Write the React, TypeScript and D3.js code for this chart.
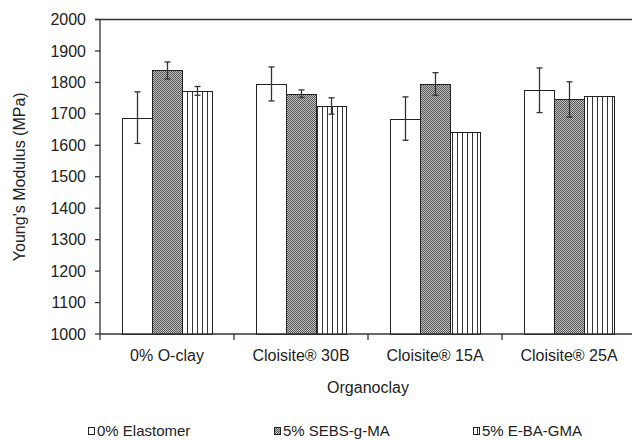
import React from "react";
import * as d3 from "d3";

const categories = ["0% O-clay", "Cloisite® 30B", "Cloisite® 15A", "Cloisite® 25A"];
const seriesNames = ["0% Elastomer", "5% SEBS-g-MA", "5% E-BA-GMA"];
const elastomer0 = [1688, 1795, 1685, 1775];
const elastomer0Err = [82, 54, 69, 71];
const sebs5 = [1838, 1764, 1795, 1746];
const sebs5Err = [27, 12, 36, 56];
const eba5 = [1773, 1725, 1642, 1758];
const eba5Err = [14, 26, 0, 0];
const yTicks = [1000, 1100, 1200, 1300, 1400, 1500, 1600, 1700, 1800, 1900, 2000];

const W = 632;
const H = 440;
const left = 100;
const right = 636;
const top = 19.5;
const bottom = 334;

export default function App() {
  const x = d3.scaleBand<string>().domain(categories).range([left, right]).paddingInner(0.3284).paddingOuter(0.1642);
  const xs = d3.scaleBand<number>().domain([0, 1, 2]).range([0, x.bandwidth()]);
  const y = d3.scaleLinear().domain([1000, 2000]).range([bottom, top]);
  const values = [elastomer0, sebs5, eba5];
  const errs = [elastomer0Err, sebs5Err, eba5Err];
  const fills = ["#ffffff", "url(#checker)", "url(#vstripe)"];
  const font = "'Liberation Sans', Arial, sans-serif";
  const txt = "#222";
  const legendX = [88, 274, 473];

  return (
    <svg width={W} height={H} style={{ position: "absolute", left: 0, top: 0 }} fontFamily={font}>
      <defs>
        <pattern id="checker" patternUnits="userSpaceOnUse" width={2} height={2}>
          <rect x={0} y={0} width={2} height={2} fill="#bdbdbd" />
          <rect x={0} y={0} width={1} height={1} fill="#5a5a5a" />
          <rect x={1} y={1} width={1} height={1} fill="#5a5a5a" />
        </pattern>
        <pattern id="vstripe" patternUnits="userSpaceOnUse" width={5} height={5}>
          <rect x={0} y={0} width={5} height={5} fill="#ffffff" />
          <rect x={2} y={0} width={1} height={5} fill="#333" />
        </pattern>
      </defs>
      <rect x={0} y={0} width={W} height={H} fill="#fff" />
      {/* bars */}
      {categories.map((c, ci) => (
        <g key={c}>
          {values.map((vals, si) => {
            const bx = (x(c) as number) + (xs(si) as number);
            const by = y(vals[ci]);
            return (
              <rect key={si} x={bx + 0.5} y={Math.round(by) + 0.5} width={xs.bandwidth()} height={bottom - Math.round(by)}
                fill={fills[si]} stroke="#222" strokeWidth={1} />
            );
          })}
        </g>
      ))}
      {/* error bars */}
      {categories.map((c, ci) => (
        <g key={"e" + c}>
          {values.map((vals, si) => {
            const e = errs[si][ci];
            if (!e) return null;
            const cx = Math.round((x(c) as number) + (xs(si) as number) + xs.bandwidth() / 2) + 0.5;
            const y1 = y(vals[ci] + e);
            const y2 = y(vals[ci] - e);
            return (
              <g key={si} stroke="#333" strokeWidth={1.3}>
                <line x1={cx} x2={cx} y1={y1} y2={y2} />
                <line x1={cx - 3} x2={cx + 3} y1={y1} y2={y1} />
                <line x1={cx - 3} x2={cx + 3} y1={y2} y2={y2} />
              </g>
            );
          })}
        </g>
      ))}
      {/* axes */}
      <g stroke="#333" strokeWidth={1.3}>
        <line x1={left} x2={left} y1={top} y2={bottom} />
        <line x1={left - 5} x2={right} y1={top} y2={top} />
        <line x1={left} x2={right} y1={bottom} y2={bottom} />
        {yTicks.map((t) => (
          <line key={t} x1={left - 5} x2={left} y1={y(t)} y2={y(t)} />
        ))}
        {categories.map((c) => (
          <line key={c} x1={(x(c) as number) - x.step() * 0.1642} x2={(x(c) as number) - x.step() * 0.1642} y1={bottom} y2={bottom + 6} />
        ))}
      </g>
      {yTicks.map((t) => (
        <text key={t} x={86} y={y(t)} dy="0.35em" textAnchor="end" fontSize={16} fill={txt}>{t}</text>
      ))}
      {categories.map((c) => (
        <text key={c} x={(x(c) as number) + x.bandwidth() / 2} y={361} textAnchor="middle" fontSize={16} fill={txt}>{c}</text>
      ))}
      <text x={(left + right) / 2} y={393} textAnchor="middle" fontSize={16} fill={txt}>Organoclay</text>
      <text transform={`translate(25,${(top + bottom) / 2}) rotate(-90)`} textAnchor="middle" fontSize={16} fill={txt}>Young's Modulus (MPa)</text>
      {/* legend */}
      {seriesNames.map((s, i) => (
        <g key={s}>
          <rect x={legendX[i] + 0.5} y={427.5} width={6} height={7} fill={fills[i]} stroke="#222" strokeWidth={1} />
          <text x={legendX[i] + 9} y={435.5} fontSize={15} fill={txt}>{s}</text>
        </g>
      ))}
    </svg>
  );
}
